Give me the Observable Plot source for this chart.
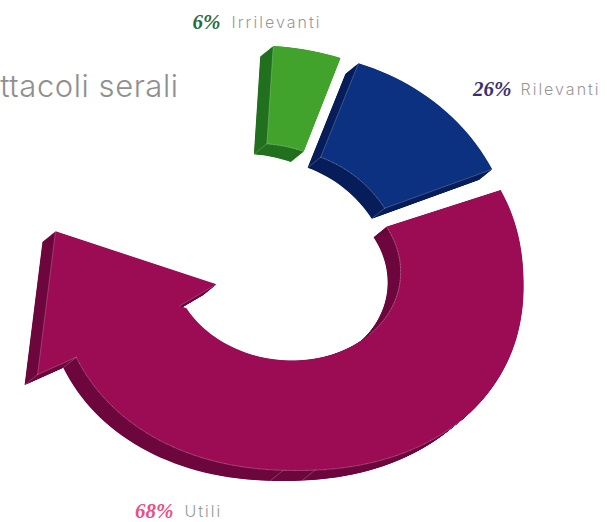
<!DOCTYPE html>
<html><head><meta charset="utf-8">
<style>html,body{margin:0;padding:0;background:#fff;overflow:hidden}svg{display:block}</style>
<script src="https://cdn.jsdelivr.net/npm/d3@7"></script>
<script src="https://cdn.jsdelivr.net/npm/@observablehq/plot@0.6"></script>
</head><body><script>
const categories = ["Irrilevanti", "Rilevanti", "Utili"];
const shares = [6, 26, 68];
const chartTitle = "Spettacoli serali";
const faceColors = ["#41a32b", "#0d3181", "#9b0c55"];
const sideColors = ["#21701e", "#071d5a", "#6d063c"];
const shareColors = ["#2a6b3c", "#3a2f6e", "#e84f87"];

const W = 607, H = 522;
const depth = [-13, 10.5];
const outer = {cx: 290, cy: 277, rx: 233, ry: 193, shear: 0.03, p: 0.92};
const inner = {cx: 286, cy: 267, rx: 114, ry: 93, shear: 0.06, p: 1};
const outerGreen = {cx: 256, cy: 242, rx: 240, ry: 197, shear: 0, p: 1};
const outerBlue = {cx: 285, cy: 260, rx: 230, ry: 208, shear: 0, p: 1};
const innerBlue = {cx: 276, cy: 278, rx: 129, ry: 129, shear: 0, p: 1};
const rad = d => d * Math.PI / 180;
const spow = (v, p) => Math.sign(v) * Math.pow(Math.abs(v), p);
const ell = (e, t) => {
  const c = spow(Math.cos(rad(t)), e.p), s = spow(Math.sin(rad(t)), e.p);
  return [e.cx + e.rx * c + e.shear * e.ry * s, e.cy + e.ry * s];
};
const pos = (t, k) => {
  const a = ell(inner, t), b = ell(outer, t);
  return [a[0] + k * (b[0] - a[0]), a[1] + k * (b[1] - a[1])];
};
const arc = (e, t0, t1) => {
  const n = Math.max(2, Math.ceil(Math.abs(t1 - t0) / 2));
  return d3.range(n + 1).map(i => ell(e, t0 + (t1 - t0) * i / n));
};
const move = (pts, [dx, dy]) => pts.map(([x, y]) => [x + dx, y + dy]);

const shapes = [
  [...arc(outerGreen, -86, -69.5), ...move(arc(inner, -66, -85), [-24, -31])],
  [...arc(outerBlue, -71.5, -26), ...arc(innerBlue, -33, -70)],
  [...arc(outer, -25, 157.5), pos(158, 1.353), pos(192, 1.047), pos(159, -0.318), pos(157, 0.04), ...arc(inner, 154, -26)]
];
const seams = [92.5, 86.3].map(t => ell(outer, t));

const marks = [];
const asRows = (pts, z) => pts.map(([x, y]) => ({x, y, z}));
const back = p => [p[0] + depth[0], p[1] + depth[1]];
const layers = d3.range(1, 33).map(i => i / 32);
shapes.forEach((pts, i) => {
  const edges = [];
  const n = pts.length;
  const vis = pts.map((p, j) => {
    const q = pts[(j + 1) % n];
    return (q[1] - p[1]) * depth[0] - (q[0] - p[0]) * depth[1] > 0;
  });
  const dirOf = (a, b) => Math.atan2(b[1] - a[1], b[0] - a[0]);
  pts.forEach((p, j) => {
    const q = pts[(j + 1) % n], o = pts[(j - 1 + n) % n];
    if (vis[j]) edges.push(...asRows([p, q], j));
    const diff = dirOf(p, q) - dirOf(o, p);
    const turn = Math.abs(Math.atan2(Math.sin(diff), Math.cos(diff)));
    if (turn > 0.5 && vis[j] && vis[(j - 1 + n) % n]) edges.push(...asRows([p, back(p)], "c" + j));
  });
  if (i === 2) seams.forEach((p, j) => edges.push(...asRows([p, back(p)], "s" + j)));
  const stack = layers.flatMap(f => asRows(move(pts, [depth[0] * f, depth[1] * f]), f));
  marks.push(Plot.line(stack, {x: "x", y: "y", z: "z", fill: sideColors[i], stroke: "none"}));
  marks.push(Plot.line(asRows(pts, 0), {x: "x", y: "y", fill: faceColors[i], stroke: "none"}));
  marks.push(Plot.line(edges, {x: "x", y: "y", z: "z", stroke: "#fff", strokeOpacity: 0.35, strokeWidth: 0.6}));
});

const labelAt = [[220, 22], [511, 89], [173, 511]];
const nameAt = [[231, 22], [520, 89], [184, 511]];
const labelRows = categories.map((c, i) => ({c, s: shares[i] + "%", color: shareColors[i], lx: labelAt[i][0], ly: labelAt[i][1], nx: nameAt[i][0], ny: nameAt[i][1]}));

marks.push(Plot.text([chartTitle], {x: 178, y: 87, text: d => d, textAnchor: "end", fontSize: 31, fill: "#8f8f8f", fontFamily: "Inter", fontWeight: 300}));
marks.push(Plot.text(labelRows, {x: "lx", y: "ly", text: "s", textAnchor: "end", fill: "color", fontSize: 21, fontFamily: "Liberation Serif", fontWeight: "bold", fontStyle: "italic"}));
marks.push(Plot.text(labelRows, {x: "nx", y: "ny", text: "c", textAnchor: "start", fill: "#989898", fontSize: 16, fontFamily: "Inter", fontWeight: 300}));

const svg = Plot.plot({
  width: W, height: H, margin: 0,
  x: {domain: [0, W], range: [0, W], axis: null},
  y: {domain: [0, H], range: [0, H], axis: null},
  color: {type: "identity"},
  style: {background: "#fff"},
  marks
});
d3.select(svg).selectAll("text").each(function() {
  if (categories.includes(this.textContent)) this.style.letterSpacing = "2px";
  if (this.textContent === chartTitle) this.style.letterSpacing = "0.55px";
});
document.body.appendChild(svg);
</script></body></html>
